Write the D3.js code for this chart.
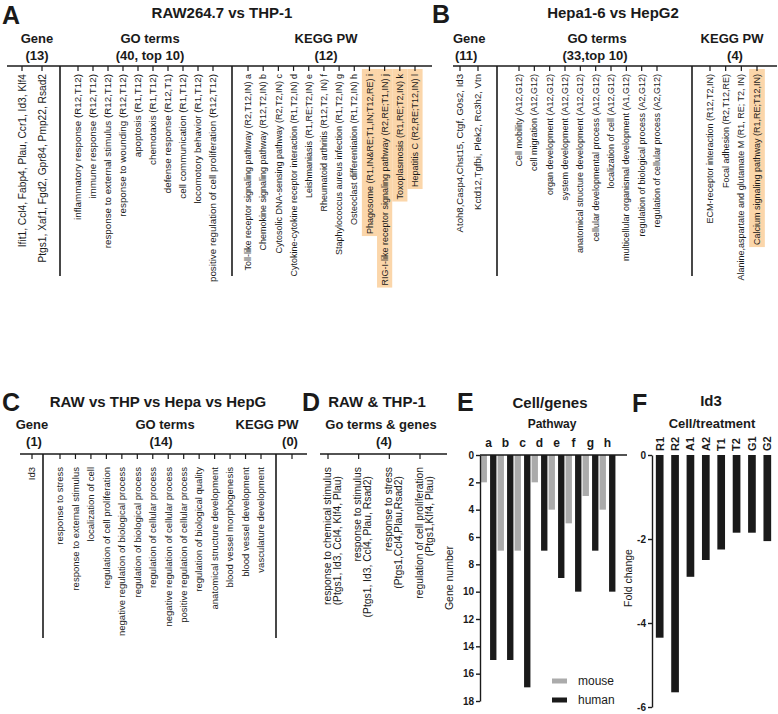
<!DOCTYPE html>
<html><head><meta charset="utf-8">
<script src="https://cdn.jsdelivr.net/npm/d3@7"></script>
<style>
body{margin:0;background:#fff}
svg{display:block}
text{font-family:"Liberation Sans",Arial,Helvetica,sans-serif;fill:#1a1a1a}
</style>
</head><body>
<svg id="c" width="778" height="714"></svg>
<script>
// ---------------- DATA ----------------
const aGeneLabels = ["Ifit1, Ccl4, Fabp4, Plau, Ccr1, Id3, Klf4", "Ptgs1, Xaf1, Fgd2, Gpr84, Pmp22, Rsad2"];
const aGoLabels = ["inflammatory response (R12,T12)", "immune response (R12,T12)", "response to external stimulus (R12,T12)",
  "response to wounding (R12,T12)", "apoptosis (R1,T12)", "chemotaxis (R1,T12)", "defense response (R12,T1)",
  "cell communication (R1,T12)", "locomotory behavior (R1,T12)", "positive regulation of cell proliferation (R12,T12)"];
const aKeggLabels = ["Toll-like receptor signaling pathway (R2,T12,IN) a", "Chemokine signaling pathway (R12,T2,IN) b",
  "Cytosolic DNA-sensing pathway (R2,T2,IN) c", "Cytokine-cytokine receptor interaction (R1,T2,IN) d",
  "Leishmaniasis (R1,RE;T2,IN) e", "Rheumatoid arthritis (R12,T2, IN) f", "Staphylococcus aureus infection (R1,T2,IN) g",
  "Osteoclast differentiation (R1,T2,IN) h", "Phagosome (R1,IN&RE;T1,IN;T12,RE) i",
  "RIG-I-like receptor signaling pathway (R2,RE;T1,IN) j", "Toxoplasmosis (R1,RE;T2,IN) k", "Hepatitis C (R2,RE;T12,IN) l"];
const aKeggHighlighted = [false, false, false, false, false, false, false, false, true, true, true, true];

const bGeneLabels = ["Atoh8,Casp4,Chst15, Ctgf, G0s2, Id3", "Kctd12,Tgfbi, Plek2, Rc3h2, Vtn"];
const bGoLabels = ["Cell mobility (A12,G12)", "cell migration (A12,G12)", "organ development (A12,G12)",
  "system development (A12,G12)", "anatomical structure development (A12,G12)", "cellular developmental process (A12,G12)",
  "localization of cell (A12,G12)", "multicellular organismal development (A1,G12)",
  "regulation of biological process (A2,G12)", "regulation of cellular process (A2,G12)"];
const bKeggLabels = ["ECM-receptor interaction (R12,T2,IN)", "Focal adhesion (R2,T12,RE)",
  "Alanine,aspartate and glutamate M (R1, RE; T2, IN)", "Calcium signaling pathway (R1,RE;T12,IN)"];
const bKeggHighlighted = [false, false, false, true];

const cGeneLabels = ["Id3"];
const cGoLabels = ["response to stress", "response to external stimulus", "localization of cell",
  "regulation of cell proliferation", "negative regulation of biological process", "regulation of biological process",
  "regulation of cellular process", "negative regulation of cellular process", "positive regulation of cellular process",
  "regulation of biological quality", "anatomical structure development", "blood vessel morphogenesis",
  "blood vessel development", "vasculature development"];
const cKeggLabels = [""];

const dTermNames = ["response to chemical stimulus", "response to stimulus", "response to stress", "regulation of cell proliferation"];
const dTermGenes = ["(Ptgs1, Id3, Ccl4, Klf4, Plau)", "(Ptgs1, Id3, Ccl4, Plau, Rsad2)", "(Ptgs1,Ccl4,Plau,Rsad2)", "(Ptgs1,Klf4, Plau)"];

const pathways = ["a", "b", "c", "d", "e", "f", "g", "h"];
const mouseGeneCounts = [2, 7, 7, 2, 4, 5, 3, 4];
const humanGeneCounts = [15, 15, 17, 7, 9, 10, 7, 10];
const geneNumberTicks = [0, 2, 4, 6, 8, 10, 12, 14, 16, 18];
const species = ["mouse", "human"];

const id3Samples = ["R1", "R2", "A1", "A2", "T1", "T2", "G1", "G2"];
const id3FoldChange = [-4.35, -5.65, -2.9, -2.5, -2.25, -1.85, -1.85, -2.05];
const foldTicks = [0, -2, -4, -6];

// ---------------- DRAWING ----------------
const INK = "#1a1a1a", GRAY = "#ababab", ORANGE = "#fbd6aa";
const svg = d3.select("#c");

function txt(g, x, y, s, size, weight, anchor) {
  return g.append("text").attr("x", x).attr("y", y).attr("text-anchor", anchor || "middle")
    .style("font-size", size + "px").style("font-weight", weight || "normal").text(s);
}
function hline(g, x1, x2, y, w) {
  g.append("line").attr("x1", x1).attr("x2", x2).attr("y1", y).attr("y2", y).attr("stroke", INK).attr("stroke-width", w || 1.6);
}
function vline(g, x, y1, y2, w) {
  g.append("line").attr("x1", x).attr("x2", x).attr("y1", y1).attr("y2", y2).attr("stroke", INK).attr("stroke-width", w || 1.6);
}

// rotated term column
function termGroup(g, labels, range, axisY, top, size, highlight) {
  const xs = d3.scalePoint().domain(d3.range(labels.length)).range(range);
  const step = labels.length > 1 ? xs.step() : 15;
  const hl = g.append("g"), tk = g.append("g"), tx = g.append("g");
  labels.forEach((lab, i) => {
    const x = xs(i);
    tk.append("line").attr("x1", x).attr("x2", x).attr("y1", axisY).attr("y2", axisY + 5)
      .attr("stroke", INK).attr("stroke-width", 1.2);
    if (!lab) return;
    const t = tx.append("text").attr("transform", `translate(${x},${top}) rotate(-90)`)
      .attr("text-anchor", "end").attr("dy", "0.35em").style("font-size", size + "px").text(lab);
    if (highlight && highlight[i]) {
      const len = t.node().getComputedTextLength();
      const ext = top - (axisY + 3);
      hl.append("rect").attr("transform", `translate(${x},${top}) rotate(-90)`)
        .attr("x", -len - 2).attr("y", -step / 2).attr("width", len + 2 + ext).attr("height", step)
        .attr("fill", ORANGE);
    }
  });
}

// ---------- Panel A ----------
const A = svg.append("g");
txt(A, 2, 24, "A", 25, "bold", "start");
txt(A, 222, 18, "RAW264.7 vs THP-1", 15, "bold");
[["Gene", "(13)", 37], ["GO terms", "(40, top 10)", 150], ["KEGG PW", "(12)", 326]].forEach(h => {
  txt(A, h[2], 43, h[0], 13, "bold"); txt(A, h[2], 60, h[1], 13, "bold");
});
hline(A, 7, 432, 66);
vline(A, 60, 66, 276); vline(A, 232, 66, 276);
termGroup(A, aGeneLabels, [22, 42], 66, 74, 10.2);
termGroup(A, aGoLabels, [78, 213], 66, 74, 9.8);
termGroup(A, aKeggLabels, [248, 415], 66, 74, 9, aKeggHighlighted);

// ---------- Panel B ----------
const B = svg.append("g");
txt(B, 432, 23, "B", 25, "bold", "start");
txt(B, 613, 18, "Hepa1-6 vs HepG2", 15, "bold");
txt(B, 453, 43, "Gene", 13, "bold", "start"); txt(B, 455, 60, "(11)", 13, "bold", "start");
txt(B, 597, 43, "GO terms", 13, "bold"); txt(B, 595, 60, "(33,top 10)", 13, "bold");
txt(B, 732, 43, "KEGG PW", 13, "bold"); txt(B, 735, 60, "(4)", 13, "bold");
hline(B, 453, 777, 66);
vline(B, 497, 66, 276); vline(B, 692, 66, 276);
termGroup(B, bGeneLabels, [460, 478], 66, 74, 9.6);
termGroup(B, bGoLabels, [519, 657], 66, 74, 9);
termGroup(B, bKeggLabels, [710, 757], 66, 74, 9, bKeggHighlighted);

// ---------- Panel C ----------
const C = svg.append("g");
txt(C, 2, 411, "C", 25, "bold", "start");
txt(C, 158, 407, "RAW vs THP vs Hepa vs HepG", 15, "bold");
txt(C, 32, 429, "Gene", 13, "bold"); txt(C, 34, 446, "(1)", 13, "bold");
txt(C, 165, 429, "GO terms", 13, "bold"); txt(C, 161, 446, "(14)", 13, "bold");
txt(C, 267, 429, "KEGG PW", 13, "bold"); txt(C, 290, 446, "(0)", 13, "bold");
hline(C, 20, 307, 454);
vline(C, 43, 454, 638); vline(C, 276, 454, 638);
termGroup(C, cGeneLabels, [32, 32], 454, 467, 9.5);
termGroup(C, cGoLabels, [60, 261], 454, 467, 9.5);
termGroup(C, cKeggLabels, [292, 292], 454, 467, 9.5);

// ---------- Panel D ----------
const D = svg.append("g");
txt(D, 302, 411, "D", 25, "bold", "start");
txt(D, 377, 407, "RAW & THP-1", 15, "bold");
txt(D, 381, 429, "Go terms & genes", 13, "bold"); txt(D, 384, 446, "(4)", 13, "bold");
hline(D, 320, 447, 454);
{
  const xs = d3.scalePoint().domain(d3.range(dTermNames.length)).range([328, 420]);
  dTermNames.forEach((nm, i) => {
    const x = xs(i);
    vline(D, x, 454, 459, 1.2);
    const t = D.append("text").attr("transform", `translate(${x},467) rotate(-90)`)
      .attr("text-anchor", "end").style("font-size", "10.3px");
    t.append("tspan").attr("x", 0).attr("dy", 2.5).text(nm);
    t.append("tspan").attr("x", -9).attr("dy", 10).text(dTermGenes[i]);
  });
}

// ---------- Panel E ----------
const E = svg.append("g");
txt(E, 457, 411, "E", 25, "bold", "start");
txt(E, 550, 408, "Cell/genes", 15, "bold");
txt(E, 552, 428, "Pathway", 12, "bold");
const yE = d3.scaleLinear().domain([0, 18]).range([455, 701]);
const xE = d3.scaleBand().domain(pathways).range([480, 616]).paddingInner(0).paddingOuter(0);
const xSub = d3.scaleBand().domain(species).range([0, xE.bandwidth()]).paddingInner(0.33).paddingOuter(0.06);
pathways.forEach((p, i) => {
  txt(E, xE(p) + xE.bandwidth() / 2, 447, p, 12, "bold");
  [[mouseGeneCounts[i], "mouse", GRAY], [humanGeneCounts[i], "human", INK]].forEach(([v, s, col]) => {
    E.append("rect").attr("x", xE(p) + xSub(s)).attr("width", xSub.bandwidth())
      .attr("y", yE(0)).attr("height", yE(v) - yE(0)).attr("fill", col);
  });
});
hline(E, 480, 627, 455, 1.4);
const axE = E.append("g").attr("transform", "translate(480,0)")
  .call(d3.axisLeft(yE).tickValues(geneNumberTicks).tickSize(4).tickSizeOuter(0).tickPadding(2));
axE.select(".domain").attr("stroke", INK).attr("stroke-width", 1.4);
axE.selectAll(".tick line").attr("stroke", INK).attr("stroke-width", 1.4);
axE.selectAll(".tick text").style("font-size", "10px").style("font-weight", "bold").attr("fill", INK)
  .style("font-family", '"Liberation Sans",Arial,sans-serif');
E.append("text").attr("transform", "translate(453,578) rotate(-90)").attr("text-anchor", "middle")
  .style("font-size", "10.5px").text("Gene number");
// legend
species.forEach((s, i) => {
  const y = 681 + i * 19;
  E.append("rect").attr("x", 552).attr("y", y - 2.5).attr("width", 15).attr("height", 5).attr("fill", i ? INK : GRAY);
  txt(E, 578, y + 4, s, 12, "normal", "start");
});

// ---------- Panel F ----------
const F = svg.append("g");
txt(F, 632, 412, "F", 25, "bold", "start");
txt(F, 711, 406, "Id3", 15, "bold");
txt(F, 712, 428, "Cell/treatment", 13, "bold");
const yF = d3.scaleLinear().domain([0, -6]).range([455, 707]);
const xF = d3.scaleBand().domain(id3Samples).range([652, 775]).paddingInner(0.5).paddingOuter(0.25);
id3Samples.forEach((s, i) => {
  const cx = xF(s) + xF.bandwidth() / 2;
  F.append("text").attr("transform", `translate(${cx},451) rotate(-90)`).attr("text-anchor", "start")
    .attr("dy", "0.35em").style("font-size", "11px").style("font-weight", "bold").text(s);
  F.append("rect").attr("x", xF(s)).attr("width", xF.bandwidth()).attr("y", yF(0))
    .attr("height", yF(id3FoldChange[i]) - yF(0)).attr("fill", INK);
});
const axF = F.append("g").attr("transform", "translate(652,0)")
  .call(d3.axisLeft(yF).tickValues(foldTicks).tickFormat(d => String(d)).tickSize(4).tickSizeOuter(0).tickPadding(2));
axF.select(".domain").attr("stroke", INK).attr("stroke-width", 1.4);
axF.selectAll(".tick line").attr("stroke", INK).attr("stroke-width", 1.4);
axF.selectAll(".tick text").style("font-size", "10px").style("font-weight", "bold").attr("fill", INK)
  .style("font-family", '"Liberation Sans",Arial,sans-serif');
F.append("text").attr("transform", "translate(632,578) rotate(-90)").attr("text-anchor", "middle")
  .style("font-size", "10.5px").text("Fold change");
</script>
</body></html>
